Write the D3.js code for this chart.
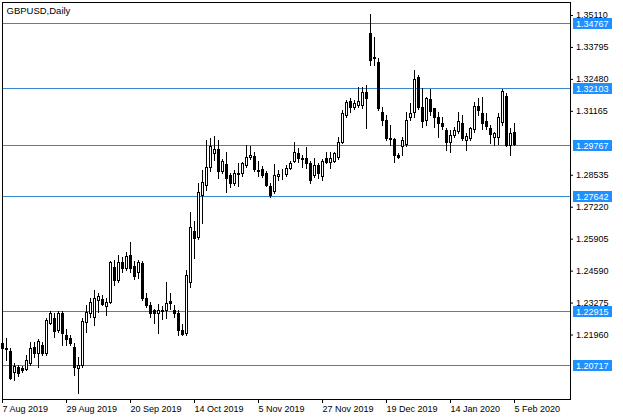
<!DOCTYPE html>
<html><head><meta charset="utf-8">
<script src="https://cdn.jsdelivr.net/npm/d3@7"></script>
<style>
html,body{margin:0;padding:0;background:#fff;}
svg{display:block;}
text{font-family:"Liberation Sans",Arial,sans-serif;}
</style>
</head><body>
<svg id="chart" width="623" height="420"></svg>
<script>
const chartTitle = "GBPUSD,Daily";

const openP = [
1.2160,1.2142,1.2128,1.2043,1.2061,1.2059,1.2054,1.2078,1.2146,1.2119,
1.2153,1.2119,1.2245,1.2265,1.2215,1.2283,1.2194,1.2181,1.2146,1.2060,
1.2070,1.2249,1.2283,1.2269,1.2338,1.2341,1.2313,1.2331,1.2475,1.2420,
1.2496,1.2469,1.2523,1.2478,1.2455,1.2492,1.2345,1.2317,1.2296,1.2286,
1.2296,1.2299,1.2334,1.2299,1.2286,1.2215,1.2201,1.2414,1.2623,1.2597,
1.2770,1.2811,1.2887,1.2942,1.2958,1.2870,1.2897,1.2853,1.2821,1.2857,
1.2860,1.2893,1.2925,1.2931,1.2875,1.2877,1.2860,1.2807,1.2787,1.2848,
1.2853,1.2855,1.2880,1.2911,1.2942,1.2924,1.2924,1.2901,1.2852,1.2893,
1.2850,1.2924,1.2907,1.2910,1.2928,1.2990,1.3099,1.3157,1.3134,1.3141,
1.3141,1.3195,1.3436,1.3339,1.3319,1.3113,1.3079,1.3006,1.2999,1.2935,
1.2972,1.2979,1.3090,1.3113,1.3254,1.3133,1.3079,1.3165,1.3127,1.3093,
1.3068,1.3038,1.2990,1.3017,1.3035,1.3065,1.2997,1.3004,1.3041,1.3136,
1.3106,1.3076,1.3045,1.3010,1.3010,1.3072,1.3179,1.2976,1.3028];
const highP = [
1.2170,1.2180,1.2139,1.2078,1.2072,1.2068,1.2112,1.2167,1.2167,1.2176,
1.2167,1.2265,1.2294,1.2286,1.2294,1.2294,1.2217,1.2194,1.2160,1.2105,
1.2263,1.2318,1.2345,1.2379,1.2366,1.2360,1.2345,1.2500,1.2503,1.2523,
1.2517,1.2537,1.2578,1.2499,1.2503,1.2500,1.2365,1.2330,1.2303,1.2322,
1.2314,1.2414,1.2365,1.2317,1.2296,1.2238,1.2462,1.2701,1.2665,1.2818,
1.2873,1.2996,1.3005,1.3013,1.2997,1.2920,1.2948,1.2861,1.2875,1.2903,
1.2907,1.2976,1.2970,1.2948,1.2910,1.2888,1.2870,1.2818,1.2897,1.2874,
1.2877,1.2893,1.2910,1.2990,1.2965,1.2935,1.2969,1.2910,1.2921,1.2900,
1.2920,1.2948,1.2948,1.2948,1.3010,1.3120,1.3161,1.3168,1.3161,1.3216,
1.3216,1.3223,1.3514,1.3422,1.3333,1.3133,1.3099,1.3060,1.3003,1.2942,
1.3010,1.3113,1.3148,1.3285,1.3263,1.3209,1.3175,1.3205,1.3130,1.3113,
1.3093,1.3045,1.3038,1.3052,1.3113,1.3100,1.3025,1.3052,1.3154,1.3168,
1.3175,1.3106,1.3060,1.3030,1.3106,1.3205,1.3190,1.3045,1.3068];
const lowP = [
1.2125,1.2091,1.2012,1.2009,1.2025,1.2040,1.2050,1.2070,1.2105,1.2061,
1.2110,1.2110,1.2240,1.2187,1.2205,1.2153,1.2153,1.2153,1.2030,1.1954,
1.2062,1.2208,1.2270,1.2235,1.2290,1.2317,1.2276,1.2325,1.2400,1.2412,
1.2455,1.2460,1.2455,1.2424,1.2430,1.2340,1.2309,1.2268,1.2245,1.2202,
1.2260,1.2262,1.2303,1.2268,1.2194,1.2194,1.2195,1.2393,1.2510,1.2590,
1.2654,1.2790,1.2870,1.2914,1.2839,1.2860,1.2784,1.2804,1.2812,1.2806,
1.2850,1.2887,1.2920,1.2870,1.2850,1.2845,1.2806,1.2764,1.2780,1.2831,
1.2837,1.2850,1.2876,1.2907,1.2907,1.2887,1.2880,1.2818,1.2845,1.2839,
1.2832,1.2900,1.2880,1.2905,1.2920,1.2985,1.3090,1.3113,1.3125,1.3134,
1.3130,1.3045,1.3305,1.3305,1.3120,1.3058,1.2996,1.2975,1.2905,1.2922,
1.2935,1.2970,1.3080,1.3092,1.3125,1.3051,1.3060,1.3100,1.3051,1.3010,
1.3040,1.2955,1.2948,1.3010,1.3025,1.2995,1.2955,1.2995,1.3030,1.3100,
1.3040,1.3040,1.2983,1.2976,1.2979,1.3060,1.2970,1.2935,1.2975];
const closeP = [
1.2139,1.2136,1.2018,1.2067,1.2039,1.2050,1.2091,1.2139,1.2121,1.2169,
1.2119,1.2256,1.2286,1.2212,1.2283,1.2204,1.2176,1.2160,1.2063,1.2070,
1.2250,1.2290,1.2331,1.2345,1.2354,1.2322,1.2331,1.2496,1.2420,1.2496,
1.2469,1.2519,1.2469,1.2437,1.2496,1.2345,1.2317,1.2283,1.2286,1.2299,
1.2292,1.2327,1.2327,1.2286,1.2215,1.2198,1.2441,1.2640,1.2595,1.2784,
1.2825,1.2887,1.2972,1.2958,1.2870,1.2910,1.2839,1.2821,1.2859,1.2862,
1.2900,1.2928,1.2935,1.2879,1.2870,1.2852,1.2811,1.2770,1.2853,1.2856,
1.2851,1.2881,1.2903,1.2948,1.2924,1.2918,1.2903,1.2832,1.2893,1.2859,
1.2910,1.2905,1.2924,1.2942,1.2990,1.3106,1.3154,1.3134,1.3148,1.3157,
1.3195,1.3171,1.3326,1.3333,1.3127,1.3079,1.3004,1.3000,1.2935,1.2928,
1.2997,1.3079,1.3106,1.3246,1.3133,1.3076,1.3168,1.3116,1.3093,1.3065,
1.3054,1.2990,1.3017,1.3038,1.3076,1.3004,1.3011,1.3045,1.3136,1.3120,
1.3068,1.3054,1.3020,1.3024,1.3093,1.3199,1.2976,1.3027,1.2979];

const xTickIndex = [0,16,32,48,64,80,96,112,128];
const xTickLabels = ["7 Aug 2019","29 Aug 2019","20 Sep 2019","14 Oct 2019","5 Nov 2019","27 Nov 2019","19 Dec 2019","14 Jan 2020","5 Feb 2020"];
const yTickValues = [1.35110,1.33795,1.32480,1.31165,1.28535,1.27220,1.25905,1.24590,1.23275,1.21960];
const levelValues = [1.34767,1.32103,1.29767,1.27642,1.22915,1.20717];

const L = 2, R = 570, T = 2, B = 399;
const svg = d3.select("#chart");
const x = d3.scaleLinear().domain([0, 142]).range([L, R]);
const y = d3.scaleLinear().domain([1.19307, 1.35644]).range([B, T]);
const py = v => Math.round(y(v));
const px = i => Math.round(x(i));

const bars = openP.map((o, i) => ({i, o, h: highP[i], l: lowP[i], c: closeP[i]}));

// level lines
svg.append("g").selectAll("line").data(levelValues).join("line")
  .attr("x1", L).attr("x2", R)
  .attr("y1", d => py(d) + 0.5).attr("y2", d => py(d) + 0.5)
  .attr("stroke", "#3587d2").attr("stroke-width", 1);

// candles
const cg = svg.append("g");
cg.selectAll("line.wick").data(bars).join("line").attr("class", "wick")
  .attr("x1", d => px(d.i) + 0.5).attr("x2", d => px(d.i) + 0.5)
  .attr("y1", d => py(d.h)).attr("y2", d => py(d.l) + 1)
  .attr("stroke", "#000").attr("stroke-width", 1);
cg.selectAll("rect.body").data(bars).join("rect").attr("class", "body")
  .attr("x", d => px(d.i) - 0.5).attr("width", 2)
  .attr("y", d => py(Math.max(d.o, d.c)) + 0.5)
  .attr("height", d => Math.max(0, py(Math.min(d.o, d.c)) - py(Math.max(d.o, d.c))))
  .attr("fill", d => d.c >= d.o ? "#fff" : "#000")
  .attr("stroke", "#000").attr("stroke-width", 1);

// frame
svg.append("rect").attr("x", L + 0.5).attr("y", T + 0.5)
  .attr("width", R - L).attr("height", B - T)
  .attr("fill", "none").attr("stroke", "#000").attr("stroke-width", 1);

// y axis
const yAxis = svg.append("g").attr("transform", `translate(${R},0)`)
  .call(d3.axisRight(y).tickValues(yTickValues).tickSize(3).tickPadding(3)
    .tickFormat(d3.format(".5f")));
yAxis.select(".domain").remove();
yAxis.selectAll("text").attr("font-size", 9).attr("font-family", "Liberation Sans, Arial, sans-serif").attr("fill", "#000");
yAxis.selectAll("line").attr("stroke", "#000");

// x axis
const xAxis = svg.append("g").attr("transform", `translate(0,${B})`)
  .call(d3.axisBottom(x).tickValues(xTickIndex).tickSize(4).tickPadding(3)
    .tickFormat((d, k) => xTickLabels[k]));
xAxis.select(".domain").remove();
xAxis.selectAll("text").attr("font-size", 9).attr("text-anchor", "start")
  .attr("font-family", "Liberation Sans, Arial, sans-serif").attr("fill", "#000");
xAxis.selectAll("line").attr("stroke", "#000");

// level labels
const lg = svg.append("g").selectAll("g").data(levelValues).join("g")
  .attr("transform", d => `translate(573,${py(d)})`);
lg.append("rect").attr("x", 0).attr("y", -5).attr("width", 39).attr("height", 11).attr("fill", "#1e90ff");
lg.append("text").attr("x", 3).attr("y", 0.5).attr("dy", "0.35em")
  .attr("font-size", 9).attr("fill", "#fff").text(d => d3.format(".5f")(d));

// title
svg.append("text").attr("x", 6.5).attr("y", 13.5).attr("font-size", 9.5).attr("fill", "#000").text(chartTitle);
</script>
</body></html>
